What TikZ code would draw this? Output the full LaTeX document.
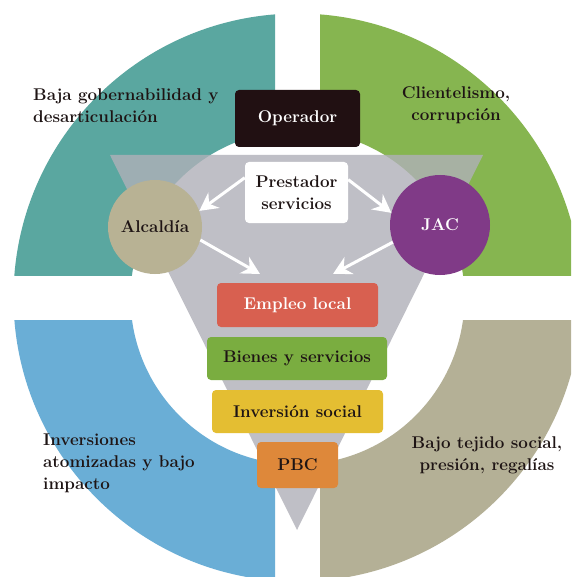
\documentclass[tikz,border=0pt]{standalone}
\usepackage{fontspec}
\usetikzlibrary{arrows.meta}
\definecolor{ink}{RGB}{30,20,20}
\definecolor{ringteal}{RGB}{90,167,160}
\definecolor{ringgreen}{RGB}{134,181,80}
\definecolor{ringblue}{RGB}{106,174,214}
\definecolor{ringkhaki}{RGB}{180,176,150}
\definecolor{funnelgray}{RGB}{176,176,184}
\definecolor{alcfill}{RGB}{184,178,148}
\definecolor{jacfill}{RGB}{128,58,135}
\definecolor{opfill}{RGB}{33,16,18}
\definecolor{empfill}{RGB}{216,96,80}
\definecolor{bienfill}{RGB}{122,173,64}
\definecolor{invfill}{RGB}{228,190,50}
\definecolor{pbcfill}{RGB}{222,136,58}
\begin{document}
\begin{tikzpicture}[x=1pt,y=-1pt,
  txt/.style={font=\bfseries\fontsize{17}{22}\selectfont, text=ink, inner sep=0pt},
  tagbox/.style={rounded corners=4pt, inner sep=0pt, font=\bfseries\fontsize{17}{22}\selectfont, align=center},
  hub/.style={circle, inner sep=0pt, font=\bfseries\fontsize{17}{22}\selectfont},
  flow/.style={white, line width=3pt, -{Stealth[length=18pt,width=19pt,inset=6pt]}}
]
\useasboundingbox (0,0) rectangle (571,577);
\clip (0,0) rectangle (571,577);
\fill[white] (0,0) rectangle (571,577);

% four quarter rings around the common centre
\coordinate (ctr) at (297.5,297.5);
\begin{scope}
  \clip (0,0) rectangle (275,275);
  \fill[ringteal, even odd rule] (ctr) circle[radius=284pt] (ctr) circle[radius=167pt];
\end{scope}
\begin{scope}
  \clip (320,0) rectangle (600,275);
  \fill[ringgreen, even odd rule] (ctr) circle[radius=284pt] (ctr) circle[radius=167pt];
\end{scope}
\begin{scope}
  \clip (0,320) rectangle (275,600);
  \fill[ringblue, even odd rule] (ctr) circle[radius=284pt] (ctr) circle[radius=167pt];
\end{scope}
\begin{scope}
  \clip (320,320) rectangle (600,600);
  \fill[ringkhaki, even odd rule] (ctr) circle[radius=284pt] (ctr) circle[radius=167pt];
\end{scope}

% translucent funnel
\fill[funnelgray, opacity=0.8] (110,155) -- (483,155) -- (297,530) -- cycle;

% corner captions
\node[txt, anchor=west, align=left] (capTL) at (33,106) {Baja gobernabilidad y\\desarticulación};
\node[txt, align=center] (capTR) at (456,105) {Clientelismo,\\corrupción};
\node[txt, anchor=west, align=left] (capBL) at (43,463) {Inversiones\\atomizadas y bajo\\impacto};
\node[txt, align=center] (capBR) at (487,455) {Bajo tejido social,\\presión, regalías};

% actors
\node[tagbox, fill=opfill, text=white, minimum width=125pt, minimum height=57pt] (op) at (297.5,118.5) {Operador};
\node[tagbox, fill=white, text=ink, minimum width=103pt, minimum height=61pt] (pres) at (296.5,192.5) {Prestador\\servicios};
\node[hub, fill=alcfill, text=ink, minimum size=94pt] (alc) at (155,227) {Alcaldía};
\node[hub, fill=jacfill, text=white, minimum size=100pt] (jac) at (440,225) {JAC};

% funnel levels
\node[tagbox, fill=empfill, text=white, minimum width=161pt, minimum height=44pt] (emp) at (297.5,305) {Empleo local};
\node[tagbox, fill=bienfill, text=ink, minimum width=180pt, minimum height=43pt] (bien) at (297,358.5) {Bienes y servicios};
\node[tagbox, fill=invfill, text=ink, minimum width=171pt, minimum height=43pt] (inv) at (297.5,411.5) {Inversión social};
\node[tagbox, fill=pbcfill, text=ink, minimum width=81pt, minimum height=46pt] (pbc) at (297.5,465) {PBC};

% flows
\coordinate (inL) at (260,274);
\coordinate (inR) at (333,274);
\draw[flow] (pres.164) -- (alc.20);
\draw[flow] (pres.14) -- (jac.166);
\draw[flow] (alc.-16) -- (inL);
\draw[flow] (jac.200) -- (inR);
\end{tikzpicture}
\end{document}
